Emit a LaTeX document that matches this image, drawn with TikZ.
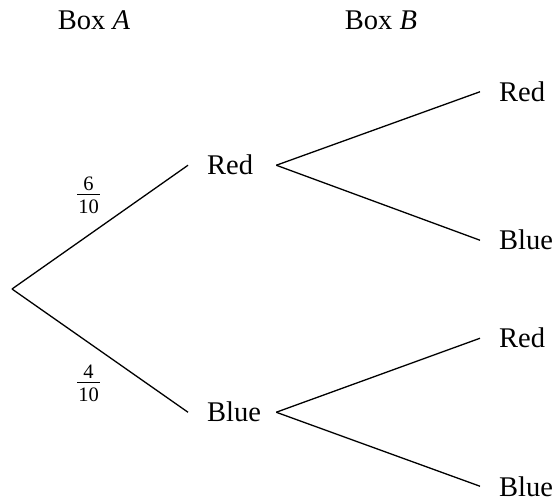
\documentclass[tikz,border=0pt]{standalone}
\usepackage{fontspec}
\setmainfont{Liberation Serif}
\begin{document}
\begin{tikzpicture}[x=1pt,y=-1pt,
    lbl/.style={font=\fontsize{28.5}{34}\selectfont, inner xsep=19pt, inner ysep=0pt, anchor=base west},
    head/.style={font=\fontsize{28.5}{34}\selectfont, inner sep=0pt, anchor=base},
    digit/.style={font=\fontsize{20.5}{24}\selectfont, inner sep=0pt, anchor=base},
    fracbar/.style={line width=1.1pt},
    branch/.style={line width=1.3pt}]
  \useasboundingbox (0,0) rectangle (557,502);
  % column headings
  \node[head] (ha) at (94,30) {Box \textit{A}};
  \node[head] (hb) at (381,30) {Box \textit{B}};
  % root and first draw (box A)
  \coordinate (o) at (12,289);
  \node[lbl] (r1) at (188,175) {Red};
  \node[lbl] (b1) at (188,422) {Blue};
  % second draw (box B)
  \node[lbl] (rr) at (480,101.5) {Red};
  \node[lbl] (rb) at (480,250) {Blue};
  \node[lbl] (br) at (480,348) {Red};
  \node[lbl] (bb) at (480,496) {Blue};
  % branches
  \draw[branch] (o) -- (r1.west);
  \draw[branch] (o) -- (b1.west);
  \draw[branch] ([xshift=4pt]r1.east) -- (rr.west);
  \draw[branch] ([xshift=4pt]r1.east) -- (rb.west);
  \draw[branch] ([xshift=-4pt]b1.east) -- (br.west);
  \draw[branch] ([xshift=-4pt]b1.east) -- (bb.west);
  % probabilities on the first-draw branches
  \node[digit] (n6) at (88.5,191) {6};
  \node[digit] (d6) at (88.5,214) {10};
  \draw[fracbar] (77,194.5) -- (100,194.5);
  \node[digit] (n4) at (88.5,379) {4};
  \node[digit] (d4) at (88.5,402) {10};
  \draw[fracbar] (77,382.5) -- (100,382.5);
\end{tikzpicture}
\end{document}
